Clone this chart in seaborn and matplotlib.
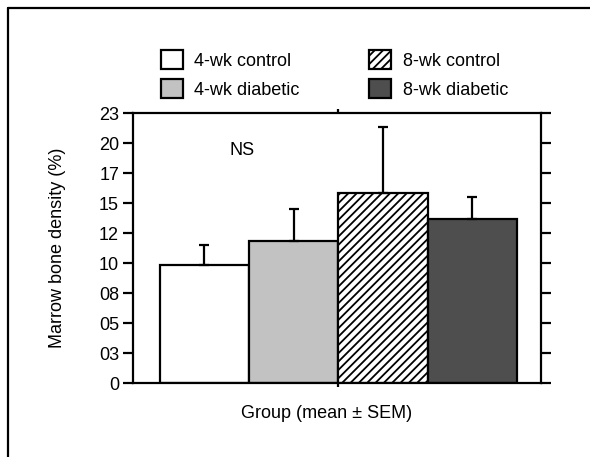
import matplotlib
matplotlib.use("Agg")
import matplotlib.pyplot as plt
import seaborn as sns
import numpy as np
from matplotlib.patches import Patch
from matplotlib.lines import Line2D

groups = ["4-wk control", "4-wk diabetic", "8-wk control", "8-wk diabetic"]
means = [9.8, 11.8, 15.8, 13.7]
sems = [1.7, 2.7, 5.5, 1.8]
ytick_vals = [0, 2.5, 5, 7.5, 10, 12.5, 15, 17.5, 20, 22.5]
ytick_labels = ["0", "03", "05", "08", "10", "12", "15", "17", "20", "23"]

colors = ["#ffffff", "#c2c2c2", "#ffffff", "#4e4e4e"]
hatches = [None, None, "////", None]

sns.set_style("white")
plt.rcParams["font.family"] = ["Liberation Sans", "DejaVu Sans"]
plt.rcParams["hatch.linewidth"] = 1.3
for k in ["text.color", "axes.labelcolor", "xtick.color", "ytick.color"]:
    plt.rcParams[k] = "black"

FS = 13

fig = plt.figure(figsize=(5.9, 4.57), dpi=100)
ax = fig.add_axes([133/590, 1-383/457, (541-133)/590, (383-113)/457])

sns.barplot(x=groups, y=means, hue=groups, palette=colors, width=1.0,
            edgecolor="black", linewidth=1.6, legend=False, ax=ax, errorbar=None)
for p, h in zip(ax.patches, hatches):
    if h:
        p.set_hatch(h)

xs = np.arange(len(groups))
ax.errorbar(xs, means, yerr=[np.zeros(len(sems)), sems], fmt="none",
            ecolor="black", elinewidth=1.6, capsize=3.5, capthick=1.6, zorder=1)

ax.set_xlim(-0.80, 3.77)
ax.set_ylim(0, 22.5)
ax.set_yticks(ytick_vals)
ax.set_yticklabels(ytick_labels, fontsize=FS)
ax.set_xticks([1.5])
ax.set_xticklabels([""])
ax.tick_params(axis="y", direction="out", length=7, width=1.6, color="black",
               left=True, right=True, pad=3)
ax.tick_params(axis="x", direction="out", length=3, width=1.6, color="black",
               top=True, bottom=True)
for s in ax.spines.values():
    s.set_visible(True)
    s.set_color("black")
    s.set_linewidth(1.6)

ax.set_ylabel("Marrow bone density (%)", fontsize=FS)
ax.yaxis.set_label_coords(-0.165, 0.5)
ax.set_xlabel("Group (mean ± SEM)", fontsize=FS)
ax.xaxis.set_label_coords(0.475, -0.08)
ax.text(0.42, 19.4, "NS", fontsize=FS, ha="center", va="center")

handles = [Patch(facecolor=c, edgecolor="black", linewidth=1.6, hatch=h, label=g)
           for c, h, g in zip(colors, hatches, groups)]
fig.legend(handles=handles, ncol=2, frameon=False, fontsize=FS,
           loc="upper left", bbox_to_anchor=(161/590, 1-50/457),
           handlelength=1.2, handleheight=1.25, handletextpad=0.65,
           labelspacing=0.52, columnspacing=3.85, borderaxespad=0, borderpad=0)

fig.add_artist(Line2D([8/590, 8/590], [0, 1-8/457], transform=fig.transFigure,
                      color="black", linewidth=1.6))
fig.add_artist(Line2D([8/590, 1], [1-8/457, 1-8/457], transform=fig.transFigure,
                      color="black", linewidth=1.6))

fig.savefig("out.png", dpi=100)
